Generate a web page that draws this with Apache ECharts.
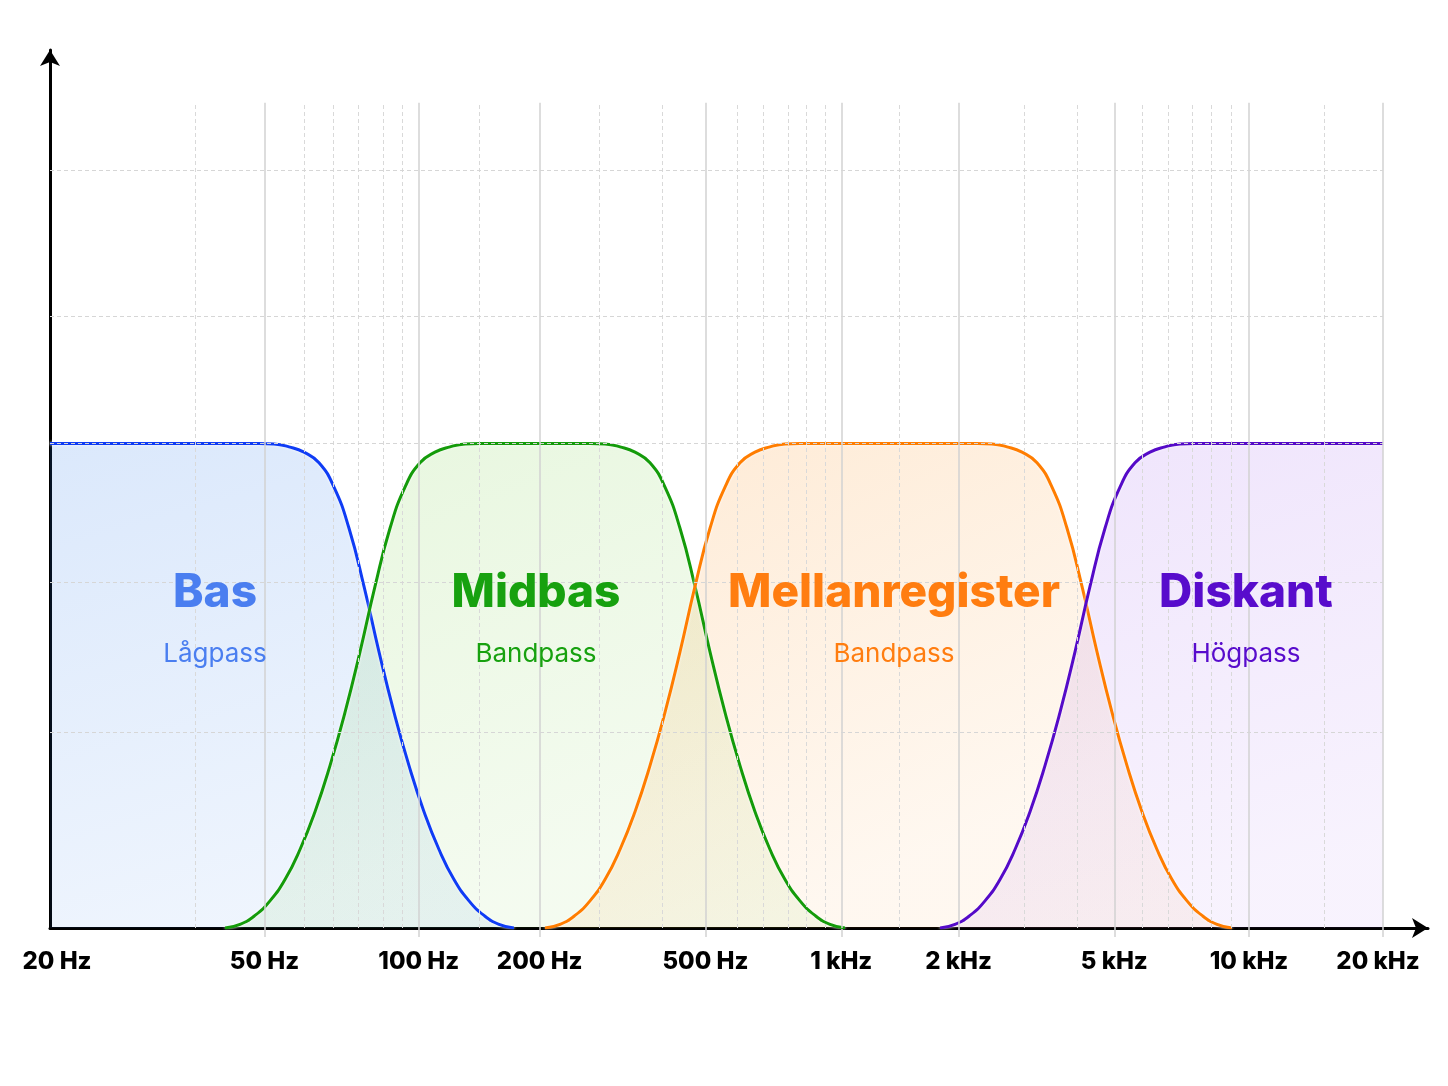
<!DOCTYPE html>
<html><head><meta charset="utf-8">
<script src="https://cdn.jsdelivr.net/npm/echarts@6/dist/echarts.min.js"></script>
<style>html,body{margin:0;padding:0;background:#fff}#c{width:1448px;height:1086px}</style>
</head><body><div id="c"></div>
<script>
// x: position along the (hand-drawn, roughly logarithmic) frequency scale; y: relative level, passband = 100
const tickValues = [0, 214.5, 368.8, 489.7, 655.4, 791.3, 908.5, 1064.3, 1199, 1333];
const tickLabels = ['20 Hz', '50 Hz', '100 Hz', '200 Hz', '500 Hz', '1 kHz', '2 kHz', '5 kHz', '10 kHz', '20 kHz'];
const minorX = [145, 254.3, 283.4, 308.3, 332.8, 351.9, 428.9, 549.4, 611.8, 687.2, 713.2, 738.1, 756.1, 774.8,
  849.2, 974.7, 1026.8, 1092.6, 1117.9, 1142, 1161.5, 1181.4, 1274.4];
const gridY = [40.5, 71.3, 100, 126.3, 156.4];
const gridTopValue = 170.3;

const bas = [[0,100],[209,100],[224,99.9],[239,99.3],[254,98.2],[269,96],[284,91],[299,82.5],[314,70.5],
  [329,57],[344,44.5],[359,33.5],[374,24],[389,16.2],[404,10],[419,5.6],[434,2.6],[449,0.75],[464,0]];
const midbas = [[175,0],[190,0.75],[205,2.6],[220,5.6],[235,10],[250,16.2],[265,24],[280,33.5],[295,44.5],
  [310,57],[325,70.5],[340,82.5],[355,91],[370,96],[385,98.2],[400,99.3],[415,99.9],[430,100],
  [540,100],[555,99.9],[570,99.3],[585,98.2],[600,96],[615,91],[630,82.5],[645,70.5],[660,57],[675,44.5],
  [690,33.5],[705,24],[720,16.2],[735,10],[750,5.6],[765,2.6],[780,0.75],[795,0]];
const mellanregister = [[495,0],[510,0.75],[525,2.6],[540,5.6],[555,10],[570,16.2],[585,24],[600,33.5],
  [615,44.5],[630,57],[645,70.5],[660,82.5],[675,91],[690,96],[705,98.2],[720,99.3],[735,99.9],[750,100],
  [927,100],[942,99.9],[957,99.3],[972,98.2],[987,96],[1002,91],[1017,82.5],[1032,70.5],[1047,57],
  [1062,44.5],[1077,33.5],[1092,24],[1107,16.2],[1122,10],[1137,5.6],[1152,2.6],[1167,0.75],[1182,0]];
const diskant = [[890,0],[905,0.75],[920,2.6],[935,5.6],[950,10],[965,16.2],[980,24],[995,33.5],[1010,44.5],
  [1025,57],[1040,70.5],[1055,82.5],[1070,91],[1085,96],[1100,98.2],[1115,99.3],[1130,99.9],[1145,100],[1333,100]];

const bandNames = ['Bas', 'Midbas', 'Mellanregister', 'Diskant'];
const bandTypes = ['Lågpass', 'Bandpass', 'Bandpass', 'Högpass'];
const bandData = [bas, midbas, mellanregister, diskant];

const lineColors = ['#0f3cf5', '#149b0a', '#ff7d00', '#550ac8'];
const textColors = ['#4a7ef0', '#17a10f', '#ff7d10', '#580ccc'];
const fillRGB = [[40,120,235],[100,200,40],[250,140,20],[150,80,235]];
const fillAlpha = [[0.24,0.11],[0.22,0.1],[0.26,0.09],[0.22,0.1]];
const labelPos = [[215,593,654],[536,593,654],[894,593,654],[1246,593,654]];

const chart = echarts.init(document.getElementById('c'), null, {renderer:'canvas'});

const markData = [];
tickValues.slice(1).forEach(v => markData.push([
  {coord:[v,0], lineStyle:{color:'#d2d2d2', width:1.5, type:'solid'}}, {coord:[v,gridTopValue]}]));
minorX.forEach(v => markData.push([
  {coord:[v,0], lineStyle:{color:'#d9d9d9', width:1, type:[4,3]}}, {coord:[v,gridTopValue]}]));
gridY.forEach(v => markData.push([
  {coord:[0,v], lineStyle:{color:'#d6d6d6', width:1, type:[4,3]}}, {coord:[1333,v]}]));

const series = [{
  type:'line', data:[[0,0]], symbol:'none', lineStyle:{width:0}, z:0, silent:true,
  markLine:{silent:true, symbol:['none','none'], label:{show:false}, animation:false, data:markData}
}];
bandData.forEach((d,i) => {
  const c = fillRGB[i];
  series.push({
    type:'line', data:d, smooth:0.5, symbol:'none', z:1, silent:true,
    lineStyle:{width:0},
    areaStyle:{color:{type:'linear', x:0, y:0, x2:0.3, y2:1, colorStops:[
      {offset:0, color:`rgba(${c[0]},${c[1]},${c[2]},${fillAlpha[i][0]})`},
      {offset:1, color:`rgba(${c[0]},${c[1]},${c[2]},${fillAlpha[i][1]})`}]}}
  });
});
bandData.forEach((d,i) => {
  series.push({
    type:'line', data:d, smooth:0.5, symbol:'none', z:3, silent:true,
    lineStyle:{width:3, color:lineColors[i], shadowColor:'rgba(255,255,255,0.9)', shadowBlur:3}
  });
});

const graphics = [];
bandNames.forEach((n,i) => {
  graphics.push({type:'text', x:labelPos[i][0], y:labelPos[i][1], z:10, silent:true,
    style:{text:n, fill:textColors[i], font:'800 46px Inter', align:'center', verticalAlign:'middle'}});
  graphics.push({type:'text', x:labelPos[i][0], y:labelPos[i][2], z:10, silent:true,
    style:{text:bandTypes[i], fill:textColors[i], font:'400 26px Inter', align:'center', verticalAlign:'middle'}});
});

function labelFor(v){
  for (let i=0;i<tickValues.length;i++) if (Math.abs(tickValues[i]-v)<0.01) {
    if (i===0) return '{first|'+tickLabels[i]+'}';
    if (i===tickValues.length-1) return '{last|'+tickLabels[i]+'}';
    return tickLabels[i];
  }
  return '';
}

const labelFont = {color:'#000', fontFamily:'Inter', fontWeight:800, fontSize:24};

chart.setOption({
  backgroundColor:'#ffffff',
  animation:false,
  grid:{left:50, right:20, top:50, bottom:158, containLabel:false},
  xAxis:{type:'value', min:0, max:1378,
    axisLine:{show:true, onZero:false, symbol:['none','arrow'], symbolSize:[15,16], lineStyle:{color:'#000', width:3}},
    axisTick:{show:true, customValues:tickValues.slice(1), length:9, lineStyle:{color:'#d2d2d2', width:1.5}},
    splitLine:{show:false},
    axisLabel:Object.assign({show:true, customValues:tickValues, margin:22, formatter:labelFor,
      showMinLabel:true, showMaxLabel:true,
      rich:{first:Object.assign({padding:[0,0,0,14]}, labelFont), last:Object.assign({padding:[0,10,0,0]}, labelFont)}
    }, labelFont)
  },
  yAxis:{type:'value', min:0, max:181.2,
    axisLine:{show:true, onZero:false, symbol:['none','arrow'], symbolSize:[15,16], lineStyle:{color:'#000', width:3}},
    axisTick:{show:false}, axisLabel:{show:false}, splitLine:{show:false}
  },
  series:series,
  graphic:graphics
});
</script></body></html>
